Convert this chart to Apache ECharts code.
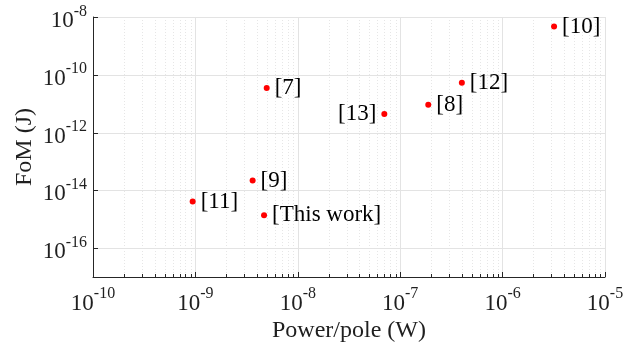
<!DOCTYPE html>
<html><head><meta charset="utf-8">
<script src="https://cdn.jsdelivr.net/npm/echarts@6/dist/echarts.min.js"></script>
<style>html,body{margin:0;padding:0;background:#fff}#c{width:631px;height:345px}</style>
</head><body><div id="c"></div>
<script>
// Data
const labels = ['[7]', '[10]', '[12]', '[8]', '[13]', '[9]', '[11]', '[This work]'];
const powerPerPole = [4.97e-9, 3.18e-6, 4.0e-7, 1.88e-7, 7.0e-8, 3.62e-9, 9.4e-10, 4.68e-9];
const fom = [3.5e-11, 4.7e-9, 5.3e-11, 9.2e-12, 4.4e-12, 2.17e-14, 4.1e-15, 1.36e-15];
const labelSide = ['right', 'right', 'right', 'right', 'left', 'right', 'right', 'right'];
const xMin = 1e-10, xMax = 1e-5;
const yMin = 1e-17, yMax = 1e-8;
const yTickExps = [-16, -14, -12, -10, -8];
const xDecades = [-10, -9, -8, -7, -6];

const minorX = [];
xDecades.forEach(e => { for (let m = 2; m <= 9; m++) minorX.push(m * Math.pow(10, e)); });

const FONT = 'Liberation Serif';
const TXT = '#1f1f1f';
const richTick = {
  b: { fontFamily: FONT, fontSize: 23, color: TXT, padding: [8, 0, 0, 0] },
  s: { fontFamily: FONT, fontSize: 16, color: TXT, verticalAlign: 'top', padding: [2, 0, 0, 0] }
};
function expLabel(v) {
  const e = Math.round(Math.log10(v));
  return '{b|10}{s|' + e + '}';
}

const chart = echarts.init(document.getElementById('c'), null, { renderer: 'canvas' });
const pts = powerPerPole.map((x, i) => ({
  value: [x, fom[i]],
  label: { position: labelSide[i], formatter: labels[i] }
}));

chart.setOption({
  animation: false,
  grid: { left: 93, right: 26, top: 17, bottom: 68, containLabel: false, outerBoundsMode: 'none' },
  xAxis: {
    type: 'log', logBase: 10, min: xMin, max: xMax, interval: 1,
    name: 'Power/pole (W)', nameLocation: 'middle', nameGap: 42, nameMoveOverlap: false,
    nameTextStyle: { fontFamily: FONT, fontSize: 24, color: TXT },
    axisLine: { show: true, lineStyle: { color: '#262626', width: 1 } },
    axisTick: { show: true, inside: true, length: 5, lineStyle: { color: '#262626' } },
    axisLabel: { formatter: expLabel, rich: richTick, margin: 7 },
    splitLine: { show: true, lineStyle: { color: '#e3e3e3', width: 1 } }
  },
  yAxis: {
    type: 'log', logBase: 10, min: yMin, max: yMax, splitNumber: 5,
    name: 'FoM (J)', nameLocation: 'middle', nameGap: 56, nameRotate: 90, nameMoveOverlap: false,
    nameTextStyle: { fontFamily: FONT, fontSize: 24, color: TXT },
    axisLine: { show: true, lineStyle: { color: '#262626', width: 1 } },
    axisTick: { show: false },
    axisLabel: {
      formatter: v => {
        const e = Math.round(Math.log10(v));
        return yTickExps.includes(e) ? expLabel(v) : '';
      },
      rich: richTick, margin: 6
    },
    splitLine: { show: false }
  },
  series: [
    {
      type: 'custom',
      silent: true,
      z: 1,
      data: minorX.map(v => [v]),
      encode: { x: 0 },
      renderItem: function (params, api) {
        const cs = params.coordSys;
        const x = Math.round(api.coord([api.value(0), yMin])[0]) + 0.5;
        const yb = cs.y + cs.height;
        return {
          type: 'group',
          children: [
            { type: 'line', shape: { x1: x, y1: cs.y, x2: x, y2: yb },
              style: { stroke: '#e6e6e6', lineWidth: 1, lineDash: [1, 2] } },
            { type: 'line', shape: { x1: x, y1: yb, x2: x, y2: yb - 3 },
              style: { stroke: '#262626', lineWidth: 1 } }
          ]
        };
      }
    },
    {
      type: 'custom',
      silent: true,
      z: 1,
      data: yTickExps.map(e => [xMin, Math.pow(10, e)]),
      encode: { x: 0, y: 1 },
      renderItem: function (params, api) {
        const cs = params.coordSys;
        const y = Math.round(api.coord([xMin, api.value(1)])[1]) + 0.5;
        return {
          type: 'group',
          children: [
            { type: 'line', shape: { x1: cs.x, y1: y, x2: cs.x + cs.width, y2: y },
              style: { stroke: '#e3e3e3', lineWidth: 1 } },
            { type: 'line', shape: { x1: cs.x, y1: y, x2: cs.x + 5, y2: y },
              style: { stroke: '#262626', lineWidth: 1 } }
          ]
        };
      }
    },
    {
      type: 'scatter',
      z: 5,
      symbol: 'circle',
      symbolSize: 6,
      itemStyle: { color: '#ff0000', opacity: 1 },
      data: pts,
      label: { show: true, fontFamily: FONT, fontSize: 23, color: '#000', distance: 5 }
    }
  ]
});
</script></body></html>
